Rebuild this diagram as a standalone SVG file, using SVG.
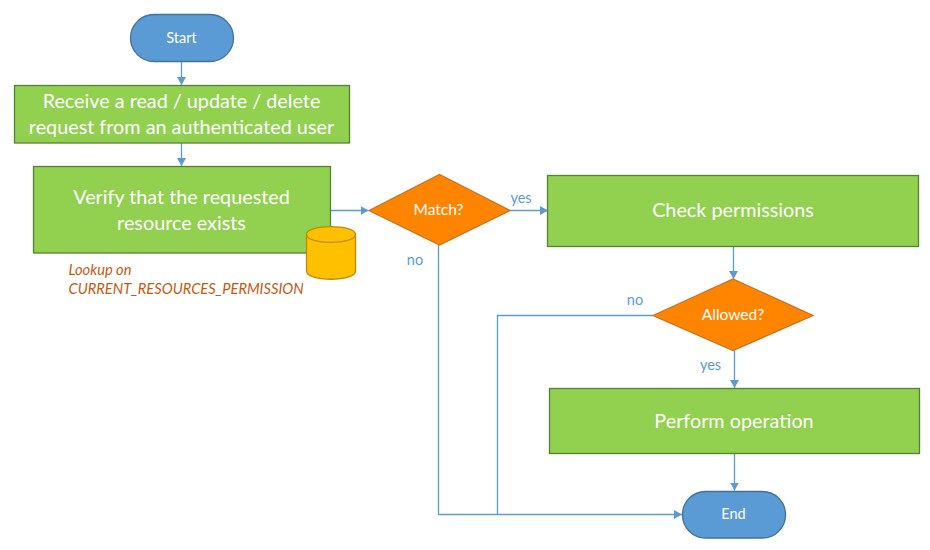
<svg xmlns="http://www.w3.org/2000/svg" width="930" height="550" viewBox="0 0 930 550">
<style>
text{font-family:Lato,"Open Sans",sans-serif;text-anchor:middle}
.t{fill:#5b9bd5;stroke:#41719c;stroke-width:1.3}
.g{fill:#92d050;stroke:#558135;stroke-width:1.3}
.d{fill:#ff8500;stroke:#c9711f;stroke-width:1.3}
.w{fill:#fff}
.big{font-size:19.8px}
.sm{font-size:14.5px}
.q{font-size:15.5px}
.lab{font-size:14.5px;fill:#5b9bd5}
.c{fill:none;stroke:#5b9bd5;stroke-width:1.3}
.note{font-size:14.7px;font-style:italic;fill:#c55a11;text-anchor:start}
</style>
<defs><marker id="a" markerUnits="userSpaceOnUse" markerWidth="9" markerHeight="9" refX="8" refY="4.5" orient="auto"><path d="M0 0L8 4.5L0 9Z" fill="#5b9bd5"/></marker></defs>
<g id="connectors">
<path class="c" marker-end="url(#a)" d="M181.500 61.500V85"/>
<path class="c" marker-end="url(#a)" d="M181.500 143V166"/>
<path class="c" marker-end="url(#a)" d="M330.500 210.500H368.500"/>
<path class="c" marker-end="url(#a)" d="M510 210.500H548"/>
<path class="c" marker-end="url(#a)" d="M733.500 246.500V279"/>
<path class="c" marker-end="url(#a)" d="M734.500 350.500V388"/>
<path class="c" marker-end="url(#a)" d="M734.500 453.500V490.500"/>
<path class="c" marker-end="url(#a)" d="M438.500 245V514.500H682"/>
<path class="c" d="M653 315.500H497.500V514.500"/>
</g>
<g id="start"><rect class="t" x="130.500" y="14.500" width="103" height="47" rx="23.500"/><text class="w sm" x="181.500" y="43">Start</text></g>
<g id="receive"><rect class="g" x="14.500" y="85.500" width="335" height="57.500"/><text class="w big" x="181.500" y="108">Receive a read / update / delete</text><text class="w big" x="181.500" y="134">request from an authenticated user</text></g>
<g id="verify"><rect class="g" x="33.500" y="166.500" width="297" height="86.500"/><text class="w big" x="181.500" y="204">Verify that the requested</text><text class="w big" x="181.500" y="230">resource exists</text></g>
<g id="db"><path d="M306.500 234.500C306.500 224 355.500 224 355.500 234.500V271C355.500 282 306.500 282 306.500 271Z" fill="#ffc000" stroke="#bc8c00" stroke-width="1.300"/><path d="M306.500 234.500C306.500 245 355.500 245 355.500 234.500" fill="none" stroke="#bc8c00" stroke-width="1.300"/></g>
<g id="note"><text class="note" x="68.500" y="275">Lookup on</text><text class="note" x="68.500" y="294">CURRENT_RESOURCES_PERMISSION</text></g>
<g id="match"><path class="d" d="M369 210.500L439.500 174.500L510 210.500L439.500 245Z"/><text class="w q" x="438.500" y="215">Match?</text></g>
<g id="check"><rect class="g" x="547.500" y="175.500" width="371" height="71"/><text class="w big" x="733" y="217">Check permissions</text></g>
<g id="allowed"><path class="d" d="M653 315.500L733 279L813 315.500L733 350.500Z"/><text class="w q" x="733" y="320">Allowed?</text></g>
<g id="perform"><rect class="g" x="549.500" y="388.500" width="370" height="65"/><text class="w big" x="734" y="428">Perform operation</text></g>
<g id="end"><rect class="t" x="682.500" y="491.500" width="103" height="46.500" rx="23"/><text class="w sm" x="733.500" y="519">End</text></g>
<g id="labels"><text class="lab" x="521" y="203">yes</text><text class="lab" x="415" y="265">no</text><text class="lab" x="635" y="305">no</text><text class="lab" x="710.500" y="370">yes</text></g>
</svg>
